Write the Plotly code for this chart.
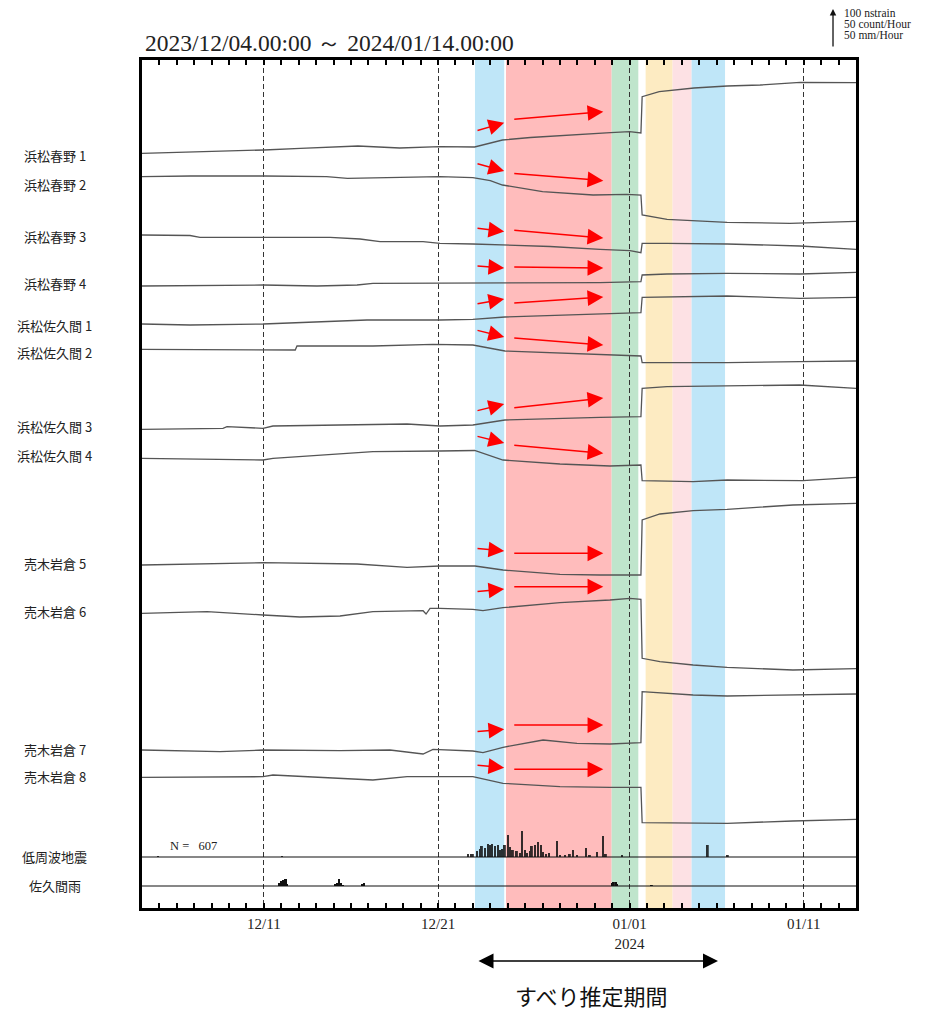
import plotly.graph_objects as go
from datetime import datetime, timedelta

# ---------------- data (time in days after 2023/12/04 00:00, values in chart units) -------------
BASE = datetime(2023, 12, 4)
END_DAYS = 41

labels = ["浜松春野 1", "浜松春野 2", "浜松春野 3", "浜松春野 4",
          "浜松佐久間 1", "浜松佐久間 2", "浜松佐久間 3", "浜松佐久間 4",
          "売木岩倉 5", "売木岩倉 6", "売木岩倉 7", "売木岩倉 8",
          "低周波地震", "佐久間雨"]

ch01_t = [0, 3.3, 7.0, 9.1, 12.4, 14.8, 17.1, 19.1, 20.7, 22.3, 24.0, 25.9, 26.9, 28.0, 28.65, 28.72, 29.7, 31.7, 33.6, 35.5, 37.8, 41.0]
ch01_v = [754.7, 756, 758, 759.7, 762, 760, 761.3, 761, 768, 770.5, 772, 774, 775.3, 776.3, 775, 811.3, 816.3, 820, 822, 823, 825.7, 825.3]

ch02_t = [0, 2.8, 7.0, 10.6, 11.8, 17.1, 19.0, 20.0, 20.7, 23.0, 25.9, 27.85, 28.65, 28.72, 30.15, 31.65, 33.6, 37.2, 41.0]
ch02_v = [731.3, 732, 732, 731.3, 729.7, 731.3, 730.3, 727.3, 723, 716.3, 713, 713.7, 713, 693, 688.7, 687.3, 685.7, 684.7, 686.7]

ch03_t = [0, 2.76, 3.33, 6.95, 10.8, 12.52, 13.67, 16.14, 17.11, 19.0, 20.84, 23.43, 26.3, 28.02, 28.65, 28.72, 30.15, 33.6, 37.78, 41.0]
ch03_v = [673, 672.5, 670.7, 670.7, 670.7, 669, 666.3, 666.3, 664.7, 664, 663, 661.5, 658.7, 657.3, 655.3, 664.7, 664.7, 664, 662, 658.7]

ch04_t = [0, 6.95, 10.05, 12.35, 13.26, 19.0, 24.0, 26.3, 28.65, 28.72, 30.15, 33.6, 37.78, 41.0]
ch04_v = [622, 623, 622, 623, 624.7, 624.7, 625, 625.3, 626.3, 633, 634, 634.7, 634, 635.7]

ch05_t = [0, 2.76, 6.95, 12.92, 17.11, 19.0, 20.84, 26.3, 28.65, 28.72, 30.15, 33.6, 37.78, 41.0]
ch05_v = [584, 583, 584, 588, 588, 588.7, 591, 594, 595.3, 610.7, 611.3, 612, 609.7, 610.7]

ch06_t = [0, 6.95, 8.8, 8.9, 13.26, 16.71, 19.0, 20.84, 26.3, 28.65, 28.72, 33.6, 37.78, 41.0]
ch06_v = [558.7, 558, 558, 562, 562, 563.7, 563, 557, 553, 552, 545.3, 545.3, 546.3, 547]

ch07_t = [0, 4.65, 4.88, 6.95, 7.52, 15.22, 17.11, 19.0, 20.84, 23.43, 26.3, 28.65, 28.72, 30.15, 33.6, 37.78, 41.0]
ch07_v = [478.7, 479.7, 481.3, 479.7, 482, 484, 482, 483, 488, 489.5, 490.7, 491.3, 519.7, 521.3, 522, 523, 519.7]

ch08_t = [0, 6.95, 7.52, 13.26, 17.11, 19.1, 20.73, 24.0, 26.87, 28.65, 28.72, 31.65, 33.6, 37.95, 41.0]
ch08_v = [449.7, 448, 449.7, 456.3, 457, 457.5, 448, 444, 442, 443, 427.3, 426.3, 428, 427.3, 430.7]

ch09_t = [0, 6.95, 12.35, 15.22, 17.11, 19.12, 20.73, 24.0, 26.3, 28.65, 28.72, 29.74, 31.65, 33.6, 37.38, 41.0]
ch09_v = [343, 345.3, 344, 340.7, 342, 342, 338, 333.7, 333, 333, 388, 394, 397.3, 398.7, 403, 404.7]

ch10_t = [0, 3.73, 6.95, 9.07, 11.37, 13.26, 16.14, 16.31, 16.54, 17.11, 19.0, 19.58, 20.73, 24.0, 26.87, 28.02, 28.65, 28.72, 29.74, 31.65, 33.6, 37.38, 41.0]
ch10_v = [294.7, 296.3, 293, 291, 292, 296.3, 297.3, 294, 299.7, 299.7, 298.7, 297.3, 300.3, 305.3, 308, 309.7, 308.7, 249.7, 246.3, 243, 240.7, 238, 239.3]

ch11_t = [0, 4.48, 6.95, 11.37, 14.24, 16.14, 16.71, 19.0, 19.58, 20.73, 23.03, 24.98, 26.87, 28.65, 28.72, 29.74, 31.65, 33.6, 37.38, 41.0]
ch11_v = [158, 156.3, 158, 157.3, 158, 154, 158.7, 157, 155.3, 160.7, 168, 164.7, 164, 165.3, 216.3, 215.3, 213, 212, 213, 214]

ch12_t = [0, 6.95, 7.52, 13.26, 15.22, 19.0, 20.73, 24.0, 26.87, 28.65, 28.72, 31.65, 33.6, 37.38, 41.0]
ch12_v = [130.7, 131.3, 133, 128, 131.3, 131.3, 124.7, 121.3, 120.7, 120.7, 85.3, 85.3, 84.7, 87, 88.7]

# low-frequency earthquakes (count/hour, chart units) and rain (mm/hour, chart units)
lfe_t = [0.92, 8.04, 18.72, 18.89, 19.0, 19.24, 19.41, 19.52, 19.70, 19.87, 19.98, 20.10, 20.27, 20.44, 20.56,
         20.67, 20.84, 21.02, 21.13, 21.30, 21.53, 21.71, 21.82, 21.99, 22.11, 22.28, 22.39, 22.57, 22.74, 22.91,
         23.03, 23.20, 23.37, 23.83, 24.0, 24.29, 24.57, 24.75, 24.98, 25.50, 25.72, 26.13, 26.47, 26.64, 27.56,
         32.49, 33.64]
lfe_h = [1, 1, 3, 3, 3, 6, 8, 11, 9, 13, 12, 13, 11, 12, 7,
         8, 12, 22, 10, 7, 6, 4, 26, 7, 4, 6, 11, 12, 15, 12,
         5, 3, 4, 16, 2, 2, 3, 7, 2, 9, 2, 5, 21, 3, 2,
         12, 2]
lfe_base = 51
lfe_count = 607

rain_t = [7.87, 7.98, 8.10, 8.21, 8.27, 8.33, 11.08, 11.20, 11.31, 11.43, 11.54, 12.63, 12.75,
          26.99, 27.10, 27.22, 27.28, 29.28]
rain_h = [3, 5, 6, 7, 7, 2, 2, 3, 7, 3, 1, 2, 3, 3, 4, 4, 2, 1]
rain_base = 22

# estimated slip periods (days)
band_start = [19.12, 20.90, 26.97, 28.92, 30.47, 31.56]
band_end = [20.80, 26.97, 28.50, 30.47, 31.56, 33.48]
band_color = ["#bfe6f8", "#ffbcbc", "#bfe5cc", "#fdebc2", "#fde1e4", "#bfe6f8"]

# red arrows: short (blue period) and long (red period) trends per channel
arr_s_t0, arr_s_t1 = 19.18, 20.80
arr_l_t0, arr_l_t1 = 21.29, 26.49
arr_s_v0 = [777, 744.7, 680, 642, 604, 578, 497, 472, 359.7, 316.3, 176.3, 143]
arr_s_v1 = [785.3, 737, 676.5, 640, 609, 571, 504, 465, 357, 319, 178.7, 140.3]
arr_l_v0 = [788.7, 734.7, 678, 641, 605, 570, 500, 463, 354.7, 321.3, 183, 138.7]
arr_l_v1 = [796.3, 727.3, 670, 640, 611, 563, 510, 454.7, 354.7, 321.3, 183, 138.7]

label_v = [753, 724, 672, 625, 583, 556, 482, 453, 345, 297, 159, 132, 52, 23]

tick_days = [7, 17, 28, 38]
tick_text = ["12/11", "12/21", "01/01<br>2024", "01/11"]

# ---------------- figure ------------------------------------------------------------------------
def t(d):
    return BASE + timedelta(days=d)

fig = go.Figure()

channels = [(ch01_t, ch01_v), (ch02_t, ch02_v), (ch03_t, ch03_v), (ch04_t, ch04_v),
            (ch05_t, ch05_v), (ch06_t, ch06_v), (ch07_t, ch07_v), (ch08_t, ch08_v),
            (ch09_t, ch09_v), (ch10_t, ch10_v), (ch11_t, ch11_v), (ch12_t, ch12_v)]
for (tt, vv), name in zip(channels, labels):
    fig.add_trace(go.Scatter(x=[t(d) for d in tt], y=vv, mode="lines", name=name,
                             line=dict(color="#555555", width=1.3), showlegend=False,
                             hoverinfo="skip"))

HOUR_MS = 3600 * 1000
fig.add_trace(go.Bar(x=[t(d) for d in lfe_t], y=lfe_h, base=lfe_base, width=2.6 * HOUR_MS,
                     marker=dict(color="#111111", line=dict(width=0)), opacity=0.85,
                     showlegend=False, hoverinfo="skip"))
fig.add_trace(go.Bar(x=[t(d) for d in rain_t], y=rain_h, base=rain_base, width=2.6 * HOUR_MS,
                     marker=dict(color="#111111", line=dict(width=0)),
                     showlegend=False, hoverinfo="skip"))

shapes = []
for s, e, c in zip(band_start, band_end, band_color):
    shapes.append(dict(type="rect", xref="x", yref="paper", x0=t(s), x1=t(e), y0=0, y1=1,
                       fillcolor=c, line=dict(width=0), layer="between"))
for b in (lfe_base, rain_base):
    shapes.append(dict(type="line", xref="paper", yref="y", x0=0, x1=1, y0=b, y1=b,
                       line=dict(color="#111111", width=1.2)))

ann = []
for i in range(12):
    for (a0, a1, v0, v1) in ((arr_s_t0, arr_s_t1, arr_s_v0[i], arr_s_v1[i]),
                             (arr_l_t0, arr_l_t1, arr_l_v0[i], arr_l_v1[i])):
        ann.append(dict(x=t(a1), y=v1, ax=t(a0), ay=v0, xref="x", yref="y", axref="x", ayref="y",
                        text="", showarrow=True, arrowhead=2, arrowsize=2.1, arrowwidth=1.5,
                        arrowcolor="#ff0000", standoff=0))

for lab, v in zip(labels, label_v):
    ann.append(dict(x=-0.122, y=v, xref="paper", yref="y", text=lab, showarrow=False,
                    xanchor="center", yanchor="middle",
                    font=dict(family="Noto Sans CJK JP", size=13, color="#222222")))

ann.append(dict(x=0.036, y=0.0731, xref="paper", yref="paper", text=f"N =   {lfe_count}",
                showarrow=False, xanchor="left", yanchor="middle",
                font=dict(family="Liberation Serif", size=12.5, color="#222222")))

ann.append(dict(x=0.2633, y=1.020, xref="paper", yref="paper",
                text="2023/12/04.00:00 ～ 2024/01/14.00:00", showarrow=False,
                xanchor="center", yanchor="middle",
                font=dict(family="Liberation Serif", size=23.5, color="#222222")))

# scale bar (top right)
ann.append(dict(x=0.9678, y=1.0613, xref="paper", yref="paper", ax=0, ay=40, text="",
                showarrow=True, arrowhead=2, arrowsize=1, arrowwidth=1.3, arrowcolor="#111111",
                standoff=0))
for k, s in enumerate(["100 nstrain", "50 count/Hour", "50 mm/Hour"]):
    ann.append(dict(x=0.9804, y=1.0554 - k * 0.0130, xref="paper", yref="paper", text=s,
                    showarrow=False, xanchor="left", yanchor="middle",
                    font=dict(family="Liberation Serif", size=11.5, color="#222222")))

# estimated slip period arrow below axis
ann.append(dict(x=0.8067, y=-0.0625, xref="paper", yref="paper", ax=-241, ay=0, text="",
                showarrow=True, arrowhead=2, startarrowhead=2, arrowside="end+start",
                arrowsize=2, startarrowsize=2, arrowwidth=1.5, arrowcolor="#000000", standoff=0,
                startstandoff=0))
ann.append(dict(x=0.6289, y=-0.1026, xref="paper", yref="paper", text="すべり推定期間",
                showarrow=False, xanchor="center", yanchor="middle",
                font=dict(family="Noto Sans CJK JP", size=22, color="#111111")))

# the page body adds an 8 px margin, so the figure is 8 px smaller than the window
fig.update_layout(
    width=920, height=1002,
    margin=dict(l=134, r=72, t=52, b=102),
    paper_bgcolor="white", plot_bgcolor="white",
    barmode="overlay",
    shapes=shapes, annotations=ann,
    showlegend=False,
)
fig.update_xaxes(
    type="date", range=[t(0), t(END_DAYS)],
    tickvals=[t(d) for d in tick_days], ticktext=tick_text,
    ticks="inside", ticklen=5, tickwidth=1.5, tickcolor="#000000",
    minor=dict(dtick=86400000, tick0=t(0), ticks="inside", ticklen=5, tickwidth=1.5,
               tickcolor="#000000", showgrid=False),
    showline=True, linewidth=3, linecolor="#000000", mirror="ticks",
    showgrid=True, griddash="5px,3px", gridcolor="#333333", gridwidth=1,
    tickfont=dict(family="Liberation Serif", size=15, color="#222222"),
    zeroline=False,
)
fig.update_yaxes(
    range=[0, 848], showticklabels=False, ticks="", showgrid=False, zeroline=False,
    showline=True, linewidth=3, linecolor="#000000", mirror=True,
)

fig.write_html("out.html")
